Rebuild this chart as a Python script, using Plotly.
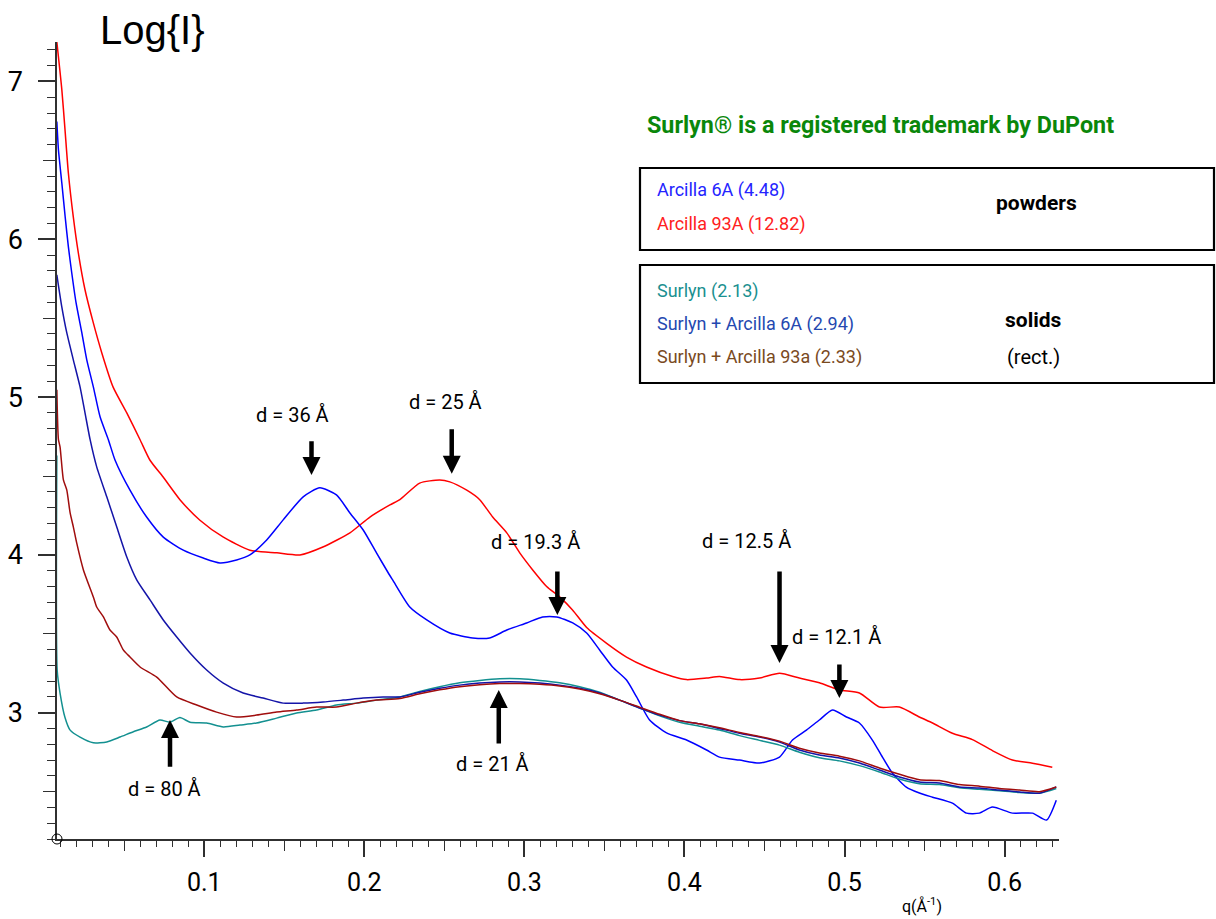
import plotly.graph_objects as go

# ---------------- data (q in 1/Angstrom, log I) ----------------
red_q = [0.0079, 0.011, 0.013, 0.0151, 0.0182, 0.0213, 0.0255, 0.0307, 0.036, 0.043, 0.0516, 0.0599,
         0.0661, 0.0742, 0.0848, 0.0973, 0.1117, 0.1285, 0.1454, 0.1598, 0.1741, 0.191, 0.2035, 0.216,
         0.2222, 0.2346, 0.2471, 0.2534, 0.264, 0.2721, 0.2802, 0.289, 0.2971, 0.3052, 0.3139, 0.322,
         0.3302, 0.3389, 0.3514, 0.3638, 0.3763, 0.3926, 0.4013, 0.4138, 0.4219, 0.4344, 0.4469, 0.4594,
         0.4718, 0.4843, 0.4968, 0.5093, 0.5218, 0.5343, 0.5468, 0.555, 0.5674, 0.5799, 0.5924, 0.6049,
         0.6174, 0.6298]
red_y = [7.25, 6.95, 6.695, 6.42, 6.14, 5.915, 5.68, 5.47, 5.28, 5.065, 4.90, 4.73,
         4.60, 4.495, 4.35, 4.22, 4.114, 4.03, 4.013, 4.00, 4.05, 4.14, 4.24, 4.317,
         4.35, 4.455, 4.475, 4.463, 4.41, 4.35, 4.24, 4.14, 4.013, 3.905, 3.80, 3.734,
         3.65, 3.54, 3.44, 3.353, 3.29, 3.23, 3.21, 3.22, 3.23, 3.21, 3.22, 3.25,
         3.22, 3.19, 3.144, 3.125, 3.036, 3.036, 2.973, 2.935, 2.87, 2.83, 2.76, 2.70,
         2.68, 2.655]

blue_q = [0.0079, 0.0089, 0.011, 0.0131, 0.0151, 0.0172, 0.0199, 0.0235, 0.0266, 0.0307, 0.0349, 0.0401,
          0.0443, 0.0536, 0.064, 0.0744, 0.0869, 0.0994, 0.1098, 0.1202, 0.1285, 0.139, 0.1493, 0.1618,
          0.1722, 0.1826, 0.191, 0.1993, 0.2076, 0.2149, 0.2178, 0.2284, 0.239, 0.2534, 0.2677, 0.2783,
          0.289, 0.3014, 0.3114, 0.3202, 0.3302, 0.3389, 0.347, 0.3551, 0.3638, 0.3701, 0.3782, 0.3888,
          0.4013, 0.4138, 0.4219, 0.4344, 0.4469, 0.4594, 0.4675, 0.4762, 0.4843, 0.4925, 0.5012, 0.5093,
          0.5174, 0.5237, 0.5299, 0.5386, 0.5468, 0.555, 0.5674, 0.5762, 0.5843, 0.5924, 0.6049, 0.6174,
          0.6262, 0.6323]
blue_y = [6.746, 6.567, 6.358, 6.143, 5.953, 5.788, 5.598, 5.408, 5.236, 5.065, 4.875, 4.73,
          4.60, 4.41, 4.24, 4.113, 4.03, 3.98, 3.949, 3.968, 4.00, 4.095, 4.222, 4.368,
          4.425, 4.38, 4.266, 4.158, 4.013, 3.887, 3.84, 3.67, 3.588, 3.505, 3.474, 3.474,
          3.524, 3.569, 3.607, 3.607, 3.569, 3.505, 3.398, 3.29, 3.207, 3.10, 2.954, 2.872,
          2.827, 2.764, 2.719, 2.70, 2.681, 2.719, 2.827, 2.89, 2.954, 3.017, 2.973, 2.935,
          2.827, 2.719, 2.618, 2.529, 2.491, 2.465, 2.427, 2.364, 2.364, 2.402, 2.364, 2.364,
          2.32, 2.446]

teal_q = [0.0079, 0.0081, 0.0099, 0.013, 0.0162, 0.0224, 0.0307, 0.0391, 0.0474, 0.0557, 0.064, 0.0723,
          0.0786, 0.0848, 0.0911, 0.1015, 0.1119, 0.1223, 0.1327, 0.1452, 0.1577, 0.1702, 0.1826, 0.1951,
          0.2076, 0.2222, 0.2346, 0.2471, 0.2596, 0.2721, 0.2846, 0.2971, 0.3096, 0.322, 0.3345, 0.347,
          0.3595, 0.372, 0.3845, 0.397, 0.4094, 0.4219, 0.4344, 0.4469, 0.4594, 0.4718, 0.4843, 0.4968,
          0.5093, 0.5218, 0.5343, 0.5468, 0.5593, 0.5718, 0.5843, 0.5968, 0.6093, 0.6218, 0.6323]
teal_y = [4.63, 3.27, 3.125, 2.97, 2.89, 2.846, 2.81, 2.815, 2.846, 2.88, 2.91, 2.954,
          2.94, 2.97, 2.94, 2.935, 2.91, 2.922, 2.935, 2.966, 2.998, 3.017, 3.049, 3.061,
          3.08, 3.10, 3.135, 3.165, 3.19, 3.205, 3.215, 3.215, 3.205, 3.19, 3.165, 3.13,
          3.08, 3.03, 2.98, 2.94, 2.915, 2.89, 2.855, 2.825, 2.795, 2.75, 2.715, 2.695,
          2.665, 2.625, 2.58, 2.55, 2.545, 2.525, 2.515, 2.505, 2.495, 2.49, 2.52]

dblue_q = [0.0079, 0.011, 0.0141, 0.0182, 0.0224, 0.0255, 0.0287, 0.0328, 0.0391, 0.0453, 0.0516, 0.0578,
           0.0661, 0.0744, 0.0828, 0.0911, 0.1015, 0.1119, 0.1243, 0.1368, 0.1493, 0.1618, 0.1743, 0.1868,
           0.1993, 0.2117, 0.2222, 0.2346, 0.2471, 0.2596, 0.2721, 0.2846, 0.2971, 0.3096, 0.322, 0.3345,
           0.347, 0.3595, 0.372, 0.3845, 0.397, 0.4094, 0.4219, 0.4344, 0.4469, 0.4594, 0.4718, 0.4843,
           0.4968, 0.5093, 0.5218, 0.5343, 0.5468, 0.5593, 0.5718, 0.5843, 0.5968, 0.6093, 0.6218, 0.6323]
dblue_y = [5.775, 5.572, 5.408, 5.236, 5.065, 4.90, 4.73, 4.558, 4.368, 4.178, 3.987, 3.842,
           3.715, 3.588, 3.48, 3.379, 3.271, 3.188, 3.125, 3.093, 3.061, 3.061, 3.068, 3.08,
           3.093, 3.10, 3.10, 3.13, 3.155, 3.175, 3.188, 3.195, 3.195, 3.188, 3.175, 3.155,
           3.125, 3.08, 3.03, 2.985, 2.95, 2.93, 2.90, 2.87, 2.846, 2.814, 2.764, 2.732,
           2.713, 2.681, 2.637, 2.593, 2.561, 2.555, 2.53, 2.523, 2.51, 2.498, 2.49, 2.53]

dred_q = [0.0079, 0.0089, 0.0099, 0.012, 0.0141, 0.0162, 0.0182, 0.0203, 0.0245, 0.0307, 0.0328, 0.037,
          0.0411, 0.0453, 0.0494, 0.0536, 0.0599, 0.0703, 0.0828, 0.0953, 0.1077, 0.1202, 0.1327, 0.1452,
          0.1577, 0.1702, 0.1826, 0.1951, 0.2076, 0.2222, 0.2346, 0.2471, 0.2596, 0.2721, 0.2846, 0.2971,
          0.3096, 0.322, 0.3345, 0.347, 0.3595, 0.372, 0.3845, 0.397, 0.4094, 0.4219, 0.4344, 0.4469,
          0.4594, 0.4718, 0.4843, 0.4968, 0.5093, 0.5218, 0.5343, 0.5468, 0.5593, 0.5718, 0.5843, 0.5968,
          0.6093, 0.6218, 0.6323]
dred_y = [5.046, 4.73, 4.685, 4.475, 4.412, 4.266, 4.178, 4.076, 3.905, 3.734, 3.67, 3.607,
          3.524, 3.48, 3.398, 3.353, 3.29, 3.226, 3.10, 3.049, 3.004, 2.973, 2.985, 3.004,
          3.017, 3.036, 3.036, 3.061, 3.08, 3.09, 3.12, 3.145, 3.165, 3.178, 3.185, 3.185,
          3.18, 3.17, 3.15, 3.12, 3.08, 3.035, 2.99, 2.95, 2.93, 2.905, 2.875, 2.85,
          2.82, 2.775, 2.745, 2.725, 2.695, 2.65, 2.61, 2.575, 2.57, 2.545, 2.535, 2.52,
          2.51, 2.50, 2.53]

series_names = ["Arcilla 93A (12.82)", "Arcilla 6A (4.48)", "Surlyn (2.13)",
                "Surlyn + Arcilla 6A (2.94)", "Surlyn + Arcilla 93a (2.33)"]

# peak annotations: label, label position (q, logI), arrow tip (q, logI), arrow tail (logI)
peak_labels = ["d = 36 Å", "d = 25 Å", "d = 19.3 Å", "d = 12.5 Å", "d = 12.1 Å", "d = 21 Å", "d = 80 Å"]
label_q = [0.1554, 0.2509, 0.3071, 0.4388, 0.4948, 0.2802, 0.0749]
label_y = [4.888, 4.967, 4.079, 4.091, 3.477, 2.675, 2.516]
tip_q = [0.1670, 0.2546, 0.3206, 0.4594, 0.4968, 0.2840, 0.0786]
tip_y = [4.507, 4.514, 3.620, 3.315, 3.093, 3.144, 2.954]
tail_y = [4.729, 4.805, 3.905, 3.905, 3.315, 2.795, 2.649]

x_ticks = [0.1, 0.2, 0.3, 0.4, 0.5, 0.6]
y_ticks = [3, 4, 5, 6, 7]

# ---------------- style ----------------
NARROW = "Roboto, Liberation Sans, sans-serif"
REG = "Liberation Sans, Arial, sans-serif"
colors = ["#ff0000", "#0000ff", "#139090", "#1414a8", "#a00d0d"]
XR = [0.008, 0.634]
YR = [2.2, 7.25]

# plot area in pixels
L, R, T, B = 57, 1059, 42, 839
W, H = 1216, 919


def P(px, py):
    return (px - L) / (R - L), (B - py) / (B - T)


fig = go.Figure()
for q, y, c, n in zip([red_q, blue_q, teal_q, dblue_q, dred_q],
                      [red_y, blue_y, teal_y, dblue_y, dred_y], colors, series_names):
    fig.add_trace(go.Scatter(x=q, y=y, mode="lines", name=n,
                             line=dict(color=c, width=1.5, shape="spline", smoothing=0.6),
                             showlegend=False))

# dummy trace for the overlay axes carrying the medium ticks
fig.add_trace(go.Scatter(x=[], y=[], xaxis="x2", yaxis="y2", showlegend=False))

axis_col = "#303030"
fig.update_layout(
    width=W, height=H,
    margin=dict(l=L, r=W - R, t=T, b=H - B, pad=0, autoexpand=False),
    paper_bgcolor="white", plot_bgcolor="white",
    xaxis=dict(range=XR, automargin=False, showgrid=False, zeroline=False, showline=True,
               linecolor=axis_col, linewidth=1.5,
               ticks="outside", ticklen=16, tickwidth=1.5, tickcolor=axis_col,
               tickvals=x_ticks, ticktext=[f"{v:.1f}" for v in x_ticks],
               tickfont=dict(family=NARROW, size=25, color="black"), ticklabelstandoff=4,
               minor=dict(ticks="outside", ticklen=6, tickwidth=1.2, tickcolor=axis_col, dtick=0.01, tick0=0)),
    yaxis=dict(range=YR, automargin=False, showgrid=False, zeroline=False, showline=True,
               linecolor=axis_col, linewidth=1.5,
               ticks="outside", ticklen=17, tickwidth=1.5, tickcolor=axis_col,
               tickvals=y_ticks, ticktext=[str(v) for v in y_ticks],
               tickfont=dict(family=NARROW, size=27, color="black"), ticklabelstandoff=10,
               minor=dict(ticks="outside", ticklen=8, tickwidth=1.2, tickcolor=axis_col, dtick=0.1, tick0=0)),
    xaxis2=dict(range=XR, automargin=False, overlaying="x", anchor="y", showgrid=False, zeroline=False,
                showline=False, ticks="outside", ticklen=11, tickwidth=1.2, tickcolor=axis_col,
                tickvals=[0.05, 0.15, 0.25, 0.35, 0.45, 0.55], showticklabels=False),
    yaxis2=dict(range=YR, automargin=False, overlaying="y", anchor="x", side="left", showgrid=False,
                zeroline=False, showline=False, ticks="outside", ticklen=13, tickwidth=1.2, tickcolor=axis_col,
                tickvals=[2.5, 3.5, 4.5, 5.5, 6.5], showticklabels=False),
    showlegend=False,
)

ann = []
# peak labels and arrows
for lab, lq, ly, tq, ty, ay in zip(peak_labels, label_q, label_y, tip_q, tip_y, tail_y):
    ann.append(dict(x=lq, y=ly, xref="x", yref="y", text=lab, showarrow=False,
                    font=dict(family=NARROW, size=20, color="black"), xanchor="center", yanchor="middle"))
    ann.append(dict(x=tq, y=ty, xref="x", yref="y", ax=tq, ay=ay, axref="x", ayref="y", text="",
                    showarrow=True, arrowhead=2, arrowsize=0.8, arrowwidth=4.5, arrowcolor="black"))

# axis titles
px_, py_ = P(98, 30)
ann.append(dict(x=px_, y=py_, xref="paper", yref="paper", text="Log{I}", showarrow=False,
                xanchor="left", yanchor="middle", font=dict(family=REG, size=40, color="black")))
px_, py_ = P(922, 905)
ann.append(dict(x=px_, y=py_, xref="paper", yref="paper", text="q(Å<sup>-1</sup>)", showarrow=False,
                xanchor="center", yanchor="middle", font=dict(family=NARROW, size=16, color="black")))

# trademark note
px_, py_ = P(645, 125)
ann.append(dict(x=px_, y=py_, xref="paper", yref="paper",
                text="<b>Surlyn® is a registered trademark by DuPont</b>", showarrow=False,
                xanchor="left", yanchor="middle", font=dict(family=NARROW, size=23.3, color="#0a870a")))

# legend boxes
legend_cols = ["#2424ff", "#ff2020", "#1a9090", "#2448b0", "#7a4a1e"]
legend_txt = ["Arcilla 6A (4.48)", "Arcilla 93A (12.82)", "Surlyn (2.13)",
              "Surlyn + Arcilla 6A (2.94)", "Surlyn + Arcilla 93a (2.33)"]
legend_py = [190, 224, 291, 324, 357]
for t, c, yy in zip(legend_txt, legend_cols, legend_py):
    px_, py_ = P(655, yy)
    ann.append(dict(x=px_, y=py_, xref="paper", yref="paper", text=t, showarrow=False,
                    xanchor="left", yanchor="middle", font=dict(family=NARROW, size=18, color=c)))

for t, cx, cy, bold, sz in [("powders", 1036, 203, True, 21), ("solids", 1033, 320, True, 21),
                            ("(rect.)", 1033, 357, False, 20)]:
    px_, py_ = P(cx, cy)
    ann.append(dict(x=px_, y=py_, xref="paper", yref="paper", text=f"<b>{t}</b>" if bold else t,
                    showarrow=False, xanchor="center", yanchor="middle",
                    font=dict(family=NARROW, size=sz, color="black")))

shapes = []
for (y0, y1) in [(168, 250), (265, 383)]:
    x0p, y0p = P(640, y1)
    x1p, y1p = P(1214, y0)
    shapes.append(dict(type="rect", xref="paper", yref="paper", x0=x0p, x1=x1p, y0=y0p, y1=y1p,
                       line=dict(color="black", width=2.2), fillcolor="rgba(0,0,0,0)"))

# small circle at origin corner
cx0, cy0 = P(57, 839)
rx, ry = 5 / (R - L), 5 / (B - T)
shapes.append(dict(type="circle", xref="paper", yref="paper", x0=cx0 - rx, x1=cx0 + rx, y0=cy0 - ry, y1=cy0 + ry,
                   line=dict(color="black", width=1)))

fig.update_layout(annotations=ann, shapes=shapes)
fig.write_html("out.html", config={"displayModeBar": False},
               post_script="document.body.style.margin='0';document.body.style.padding='0';"
                           "document.documentElement.style.overflow='hidden';")
